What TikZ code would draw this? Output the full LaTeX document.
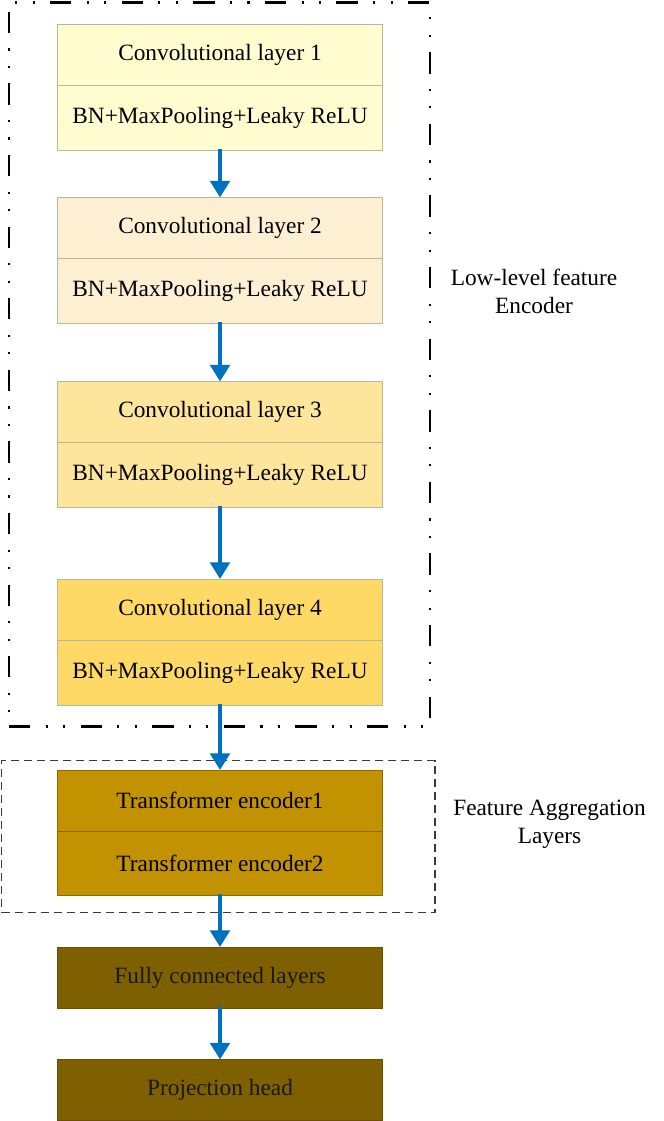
\documentclass[tikz,border=0pt]{standalone}
\usepackage{fontspec}
\setmainfont{Liberation Serif}
\usetikzlibrary{arrows.meta}
\definecolor{cA}{HTML}{FFFDCF}
\definecolor{cB}{HTML}{FDF0D2}
\definecolor{cC}{HTML}{FEE59C}
\definecolor{cD}{HTML}{FFD966}
\definecolor{cT}{HTML}{C29200}
\definecolor{cF}{HTML}{7F6000}
\definecolor{bL}{HTML}{BDB59A}
\definecolor{bT}{HTML}{8C6A00}
\definecolor{bF}{HTML}{6A5000}
\definecolor{arrblue}{HTML}{0070C0}
\definecolor{dashgray}{HTML}{3A3A3A}
\tikzset{
  layer/.style={rectangle, minimum width=243.75pt, inner sep=0pt, outer sep=0pt, line width=0.6pt},
  tophalf/.style={layer, minimum height=45.75pt},
  bothalf/.style={layer, minimum height=48.75pt},
  flowarrow/.style={draw=arrblue, line width=3.6pt, -{Triangle[width=14.5pt,length=12.5pt]}, shorten <=-1pt},
  encbox/.style={rectangle, draw=black, line width=1.7pt, inner sep=0pt,
    dash pattern=on 16pt off 11.5pt on 1.6pt off 11.5pt on 1.6pt off 11.5pt},
  aggbox/.style={rectangle, draw=dashgray, line width=1pt, inner sep=0pt,
    dash pattern=on 6pt off 3.75pt},
  grouplabel/.style={align=center, inner sep=0pt}
}
\begin{document}
\begin{tikzpicture}[x=0.75pt,y=-0.75pt, font=\fontsize{17.5}{21}\selectfont]
\useasboundingbox (0,0) rectangle (664,1121);
\fill[white] (0,0) rectangle (664,1121);

% group boxes
\node[encbox, minimum width=315.75pt, minimum height=543pt] (enc) at (219.5,364.5) {};
\node[aggbox, minimum width=325.1pt, minimum height=113.85pt] (agg) at (218.25,836.4) {};

% conv blocks
\node[tophalf, fill=cA, draw=bL] (c1) at (220,54.5) {Convolutional layer 1};
\node[bothalf, fill=cA, draw=bL] (b1) at (220,117.5) {BN+MaxPooling+Leaky ReLU};
\node[tophalf, fill=cB, draw=bL] (c2) at (220,228) {Convolutional layer 2};
\node[bothalf, fill=cB, draw=bL] (b2) at (220,291) {BN+MaxPooling+Leaky ReLU};
\node[tophalf, fill=cC, draw=bL] (c3) at (220,412) {Convolutional layer 3};
\node[bothalf, fill=cC, draw=bL] (b3) at (220,475) {BN+MaxPooling+Leaky ReLU};
\node[tophalf, fill=cD, draw=bL] (c4) at (220,609.5) {Convolutional layer 4};
\node[bothalf, fill=cD, draw=bL] (b4) at (220,672.5) {BN+MaxPooling+Leaky ReLU};

% transformer
\node[tophalf, fill=cT, draw=bT] (t1) at (220,800.5) {Transformer encoder1};
\node[bothalf, fill=cT, draw=bT, minimum height=48pt] (t2) at (220,863) {Transformer encoder2};

% heads
\node[tophalf, fill=cF, draw=bF, text=black!90] (fc) at (220,977.5) {Fully connected layers};
\node[tophalf, fill=cF, draw=bF, text=black!90] (ph) at (220,1090) {Projection head};

% arrows
\draw[flowarrow] (b1.south) -- (c2.north);
\draw[flowarrow] (b2.south) -- (c3.north);
\draw[flowarrow] (b3.south) -- (c4.north);
\draw[flowarrow] (b4.south) -- (t1.north);
\draw[flowarrow] (t2.south) -- (fc.north);
\draw[flowarrow] (fc.south) -- (ph.north);

% labels
\node[grouplabel] (encl) at (534,291) {Low-level feature\\Encoder};
\node[grouplabel] (aggl) at (549.5,824) {Feature Aggregation\\Layers};
\end{tikzpicture}
\end{document}
